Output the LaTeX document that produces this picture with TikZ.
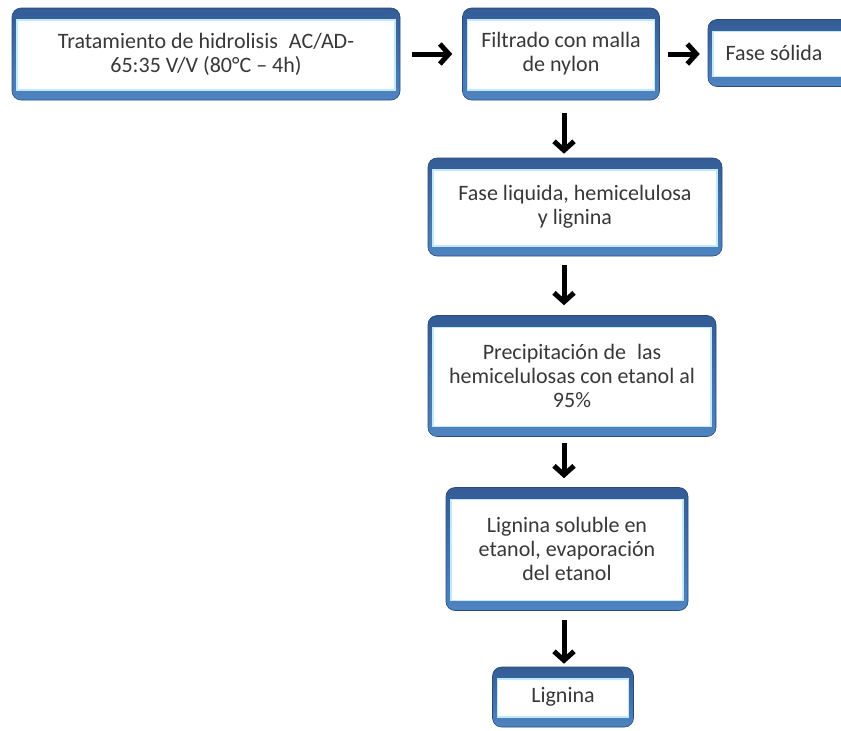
\documentclass[tikz,border=0pt]{standalone}
\usepackage{fontspec}
\setmainfont{Carlito}
\usetikzlibrary{arrows.meta,calc}
\definecolor{frametop}{RGB}{52,92,150}
\definecolor{framebot}{RGB}{78,132,192}
\definecolor{textgray}{RGB}{56,56,56}

\begin{document}
\begin{tikzpicture}[x=1pt,y=-1pt,
  stage/.style={rounded corners=9pt,top color=frametop,bottom color=framebot,
    draw=frametop!80!black,line width=0.6pt,align=center,text=textgray,
    font=\fontsize{22}{24}\selectfont,inner sep=0pt,
    path picture={\fill[white,draw=cyan!25,line width=1.2pt,sharp corners]
      ([xshift=5pt,yshift=-12pt]path picture bounding box.north west) rectangle
      ([xshift=-5pt,yshift=10pt]path picture bounding box.south east);}},
  arr/.style={-{Straight Barb[length=9pt,width=20pt,line width=5pt]},line width=5pt}]
\clip (0,0) rectangle (841,731);
\node[stage,minimum width=388pt,minimum height=92pt] (trat) at (206,54)
 {Tratamiento de hidrolisis\enspace AC/AD-\\65:35 V/V (80°C -- 4h)};
\node[stage,minimum width=197pt,minimum height=92pt] (filtr) at (561,54)
 {Filtrado con malla\\de nylon};
\node[stage,minimum width=150pt,minimum height=67pt] (solida) at (783,53)
 {\hspace*{-18pt}Fase sólida};
\node[stage,minimum width=294pt,minimum height=98pt] (liquida) at (575,207)
 {Fase liquida, hemicelulosa\\y lignina};
\node[stage,minimum width=288pt,minimum height=121pt] (precip) at (572,376)
 {Precipitación de\enspace las\\hemicelulosas con etanol al\\95\%};
\node[stage,minimum width=242pt,minimum height=123pt] (lignsol) at (567,549)
 {Lignina soluble en\\etanol, evaporación\\del etanol};
\node[stage,minimum width=141pt,minimum height=60pt] (lignina) at (563,697)
 {Lignina};
\coordinate (axis) at (564,0);
\draw[arr,shorten <=12pt,shorten >=10pt] (trat.east) -- (filtr.west);
\draw[arr,shorten <=8pt,shorten >=8pt] (filtr.east) -- (filtr.east -| solida.west);
\draw[arr,shorten <=13pt,shorten >=4pt] (filtr.south -| axis) -- (liquida.north -| axis);
\draw[arr,shorten <=9pt,shorten >=10pt] (liquida.south -| axis) -- (precip.north -| axis);
\draw[arr,shorten <=6pt,shorten >=9pt] (precip.south -| axis) -- (lignsol.north -| axis);
\draw[arr,shorten <=9pt,shorten >=3pt] (lignsol.south -| axis) -- (lignina.north -| axis);
\end{tikzpicture}
\end{document}
